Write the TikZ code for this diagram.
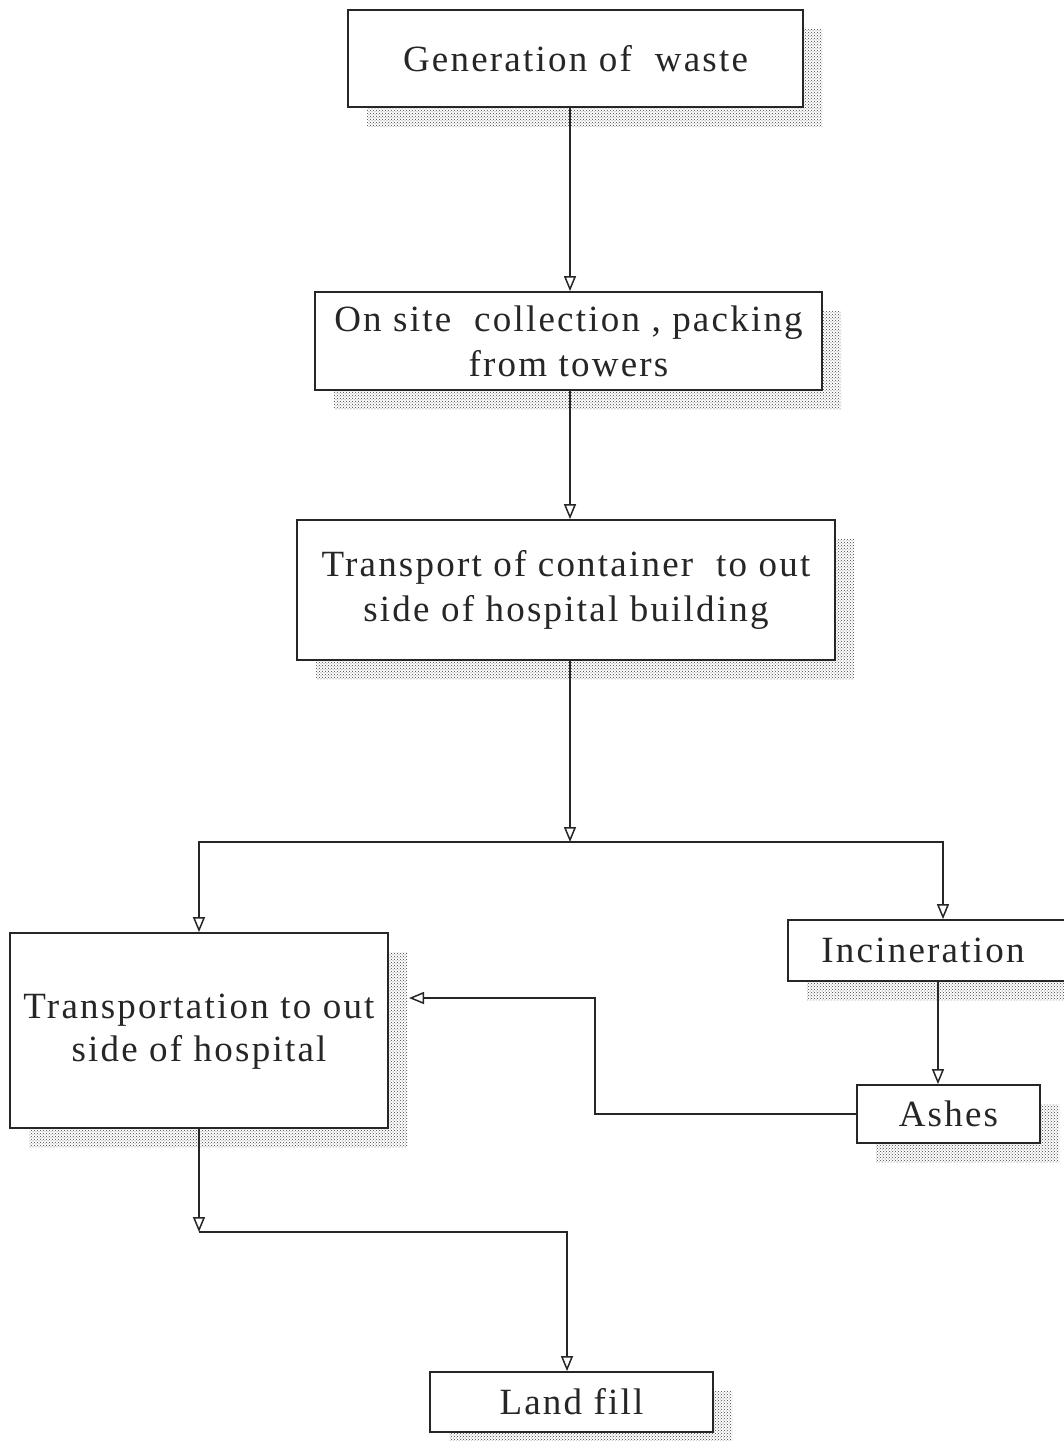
\documentclass[tikz,border=0pt]{standalone}
\usepackage{fontspec}
\setmainfont{Liberation Serif}[LetterSpace=6]
\usetikzlibrary{arrows.meta,patterns,shadows}
\begin{document}
\begin{tikzpicture}[x=1pt,y=-1pt,
  box/.style={draw=black!85, line width=1.8pt, fill=white, align=center, inner sep=0pt,
    font=\fontsize{37}{45}\selectfont, text=black!85,
    general shadow={shadow xshift=19pt, shadow yshift=-19pt, pattern=crosshatch dots, pattern color=black!75}},
  conn/.style={draw=black!85, line width=1.8pt},
  arr/.style={conn, -{Triangle[open,length=15pt,width=12pt,line width=1.5pt]}}]
\useasboundingbox[fill=white] (0,0) rectangle (1064,1441);
\node[box, minimum width=455pt, minimum height=97pt] (b1) at (575.5,58.5) {Generation of\ \ waste};
\node[box, minimum width=507pt, minimum height=98pt] (b2) at (568.5,341) {On site\ \ collection , packing\\from towers};
\node[box, minimum width=538pt, minimum height=140pt] (b3) at (566,590) {Transport of container\ \ to out\\side of hospital building};
\node[box, minimum width=378pt, minimum height=195pt] (b4) at (199,1030.5) {\raisebox{-8pt}{\begin{tabular}{@{}c@{}}Transportation to out\\[-2pt]side of hospital\end{tabular}}};
\node[box, minimum width=310pt, minimum height=61pt] (b5) at (943,950.5) {\hspace*{-20pt}Incineration\hspace*{20pt}};
\node[box, minimum width=183pt, minimum height=58pt] (b6) at (948.5,1114) {Ashes};
\node[box, minimum width=283pt, minimum height=60pt] (b7) at (571.5,1402) {Land fill};
\coordinate (j) at (570,842);
\coordinate (k) at (199,1232);
\coordinate (r1) at (595,1114);
\coordinate (r2) at (595,998);
\coordinate (r3) at (409,998);
\draw[arr] (b1.south -| 570,0) -- (b2.north -| 570,0);
\draw[arr] (b2.south -| 570,0) -- (b3.north -| 570,0);
\draw[arr] (b3.south -| 570,0) -- (j);
\draw[arr] (j) -| (b4.north);
\draw[arr] (j) -| (b5.north);
\draw[arr] (b5.south -| 938,0) -- (b6.north -| 938,0);
\draw[arr] (b6.west) -- (r1) -- (r2) -- (r3);
\draw[arr] (b4.south) -- (k);
\draw[arr] (k) -| (b7.north -| 567,0);
\end{tikzpicture}
\end{document}
